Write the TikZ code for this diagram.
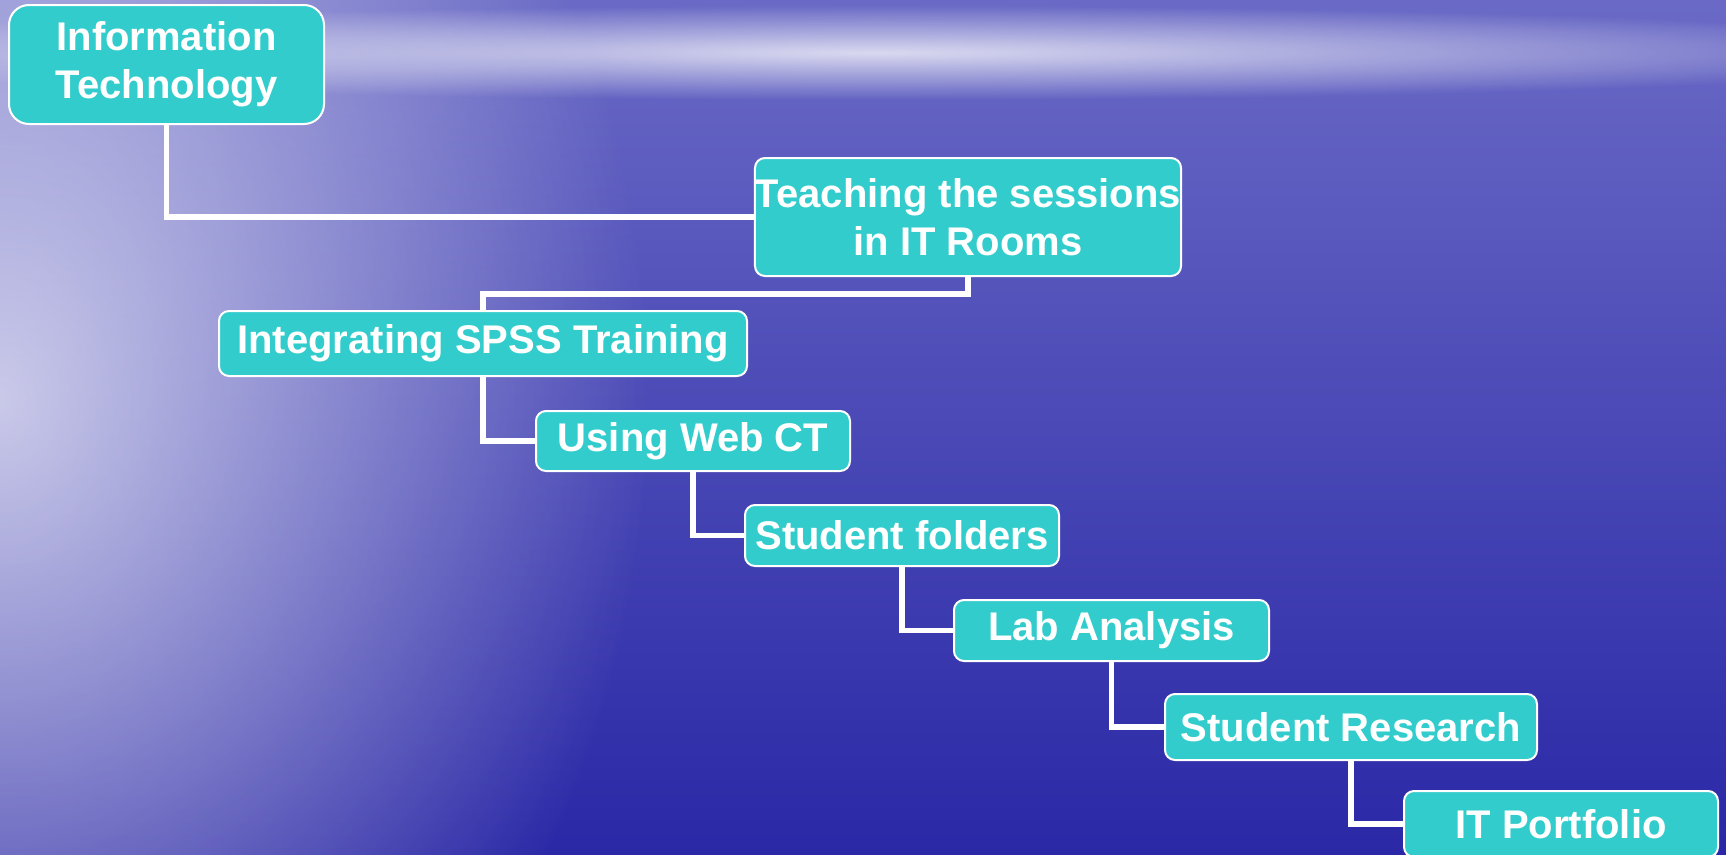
\documentclass[tikz,border=0pt]{standalone}
\usepackage{fontspec}
\setmainfont{Liberation Sans}
\usepackage{xcolor}
\usetikzlibrary{fadings}
\definecolor{boxteal}{HTML}{33CCCC}
\definecolor{seatop}{HTML}{6A6AC6}
\definecolor{seamid}{HTML}{3E3CB2}
\definecolor{seabot}{HTML}{2A28A6}
\tikzfading[name=softglow,inner color=transparent!0,outer color=transparent!100]

\begin{document}
\begin{tikzpicture}[
  x=1pt,y=-1pt,
  stepbox/.style={draw=white,line width=2pt,fill=boxteal,rounded corners=10pt,
               text=white,align=center,inner sep=0pt,
               font=\bfseries\fontsize{40}{48}\selectfont},
  link/.style={draw=white,line width=5.5pt,line join=miter}
]
  % sea background
  \useasboundingbox (0,0) rectangle (1726,854);
  \shade[top color=seatop,middle color=seamid,bottom color=seabot] (0,0) rectangle (1726,854);
  \fill[white,path fading=softglow,fill opacity=0.7] (-650,-450) rectangle (650,1250);
  \fill[white,path fading=softglow,fill opacity=0.75] (-250,5) rectangle (2000,100);

  \node[stepbox,rounded corners=20pt,minimum width=315pt,minimum height=119pt] (it) at (166.5,64.5)
    {Information\\Technology};
  \node[stepbox,minimum width=424pt,minimum height=118pt] (teach) at (968,217)
    {Teaching the sessions\\in IT Rooms};
  \node[stepbox,minimum width=528pt,minimum height=65pt] (spss) at (483,343.5)
    {Integrating SPSS Training};
  \node[stepbox,minimum width=314pt,minimum height=60pt] (webct) at (693,441)
    {Using Web CT};
  \node[stepbox,minimum width=314pt,minimum height=61pt] (folders) at (902,535.5)
    {Student folders};
  \node[stepbox,minimum width=315pt,minimum height=61pt] (lab) at (1111.5,630.5)
    {Lab Analysis};
  \node[stepbox,minimum width=372pt,minimum height=66pt] (research) at (1351,727)
    {Student Research};
  \node[stepbox,minimum width=314pt,minimum height=66pt] (portfolio) at (1561,824)
    {IT Portfolio};

  \draw[link] (it.south) |- (teach.west);
  \draw[link] (teach.south) -- ++(0,17) -| (spss.north);
  \draw[link] (spss.south) |- (webct.west);
  \draw[link] (webct.south) |- (folders.west);
  \draw[link] (folders.south) |- (lab.west);
  \draw[link] (lab.south) |- (research.west);
  \draw[link] (research.south) |- (portfolio.west);
\end{tikzpicture}
\end{document}
